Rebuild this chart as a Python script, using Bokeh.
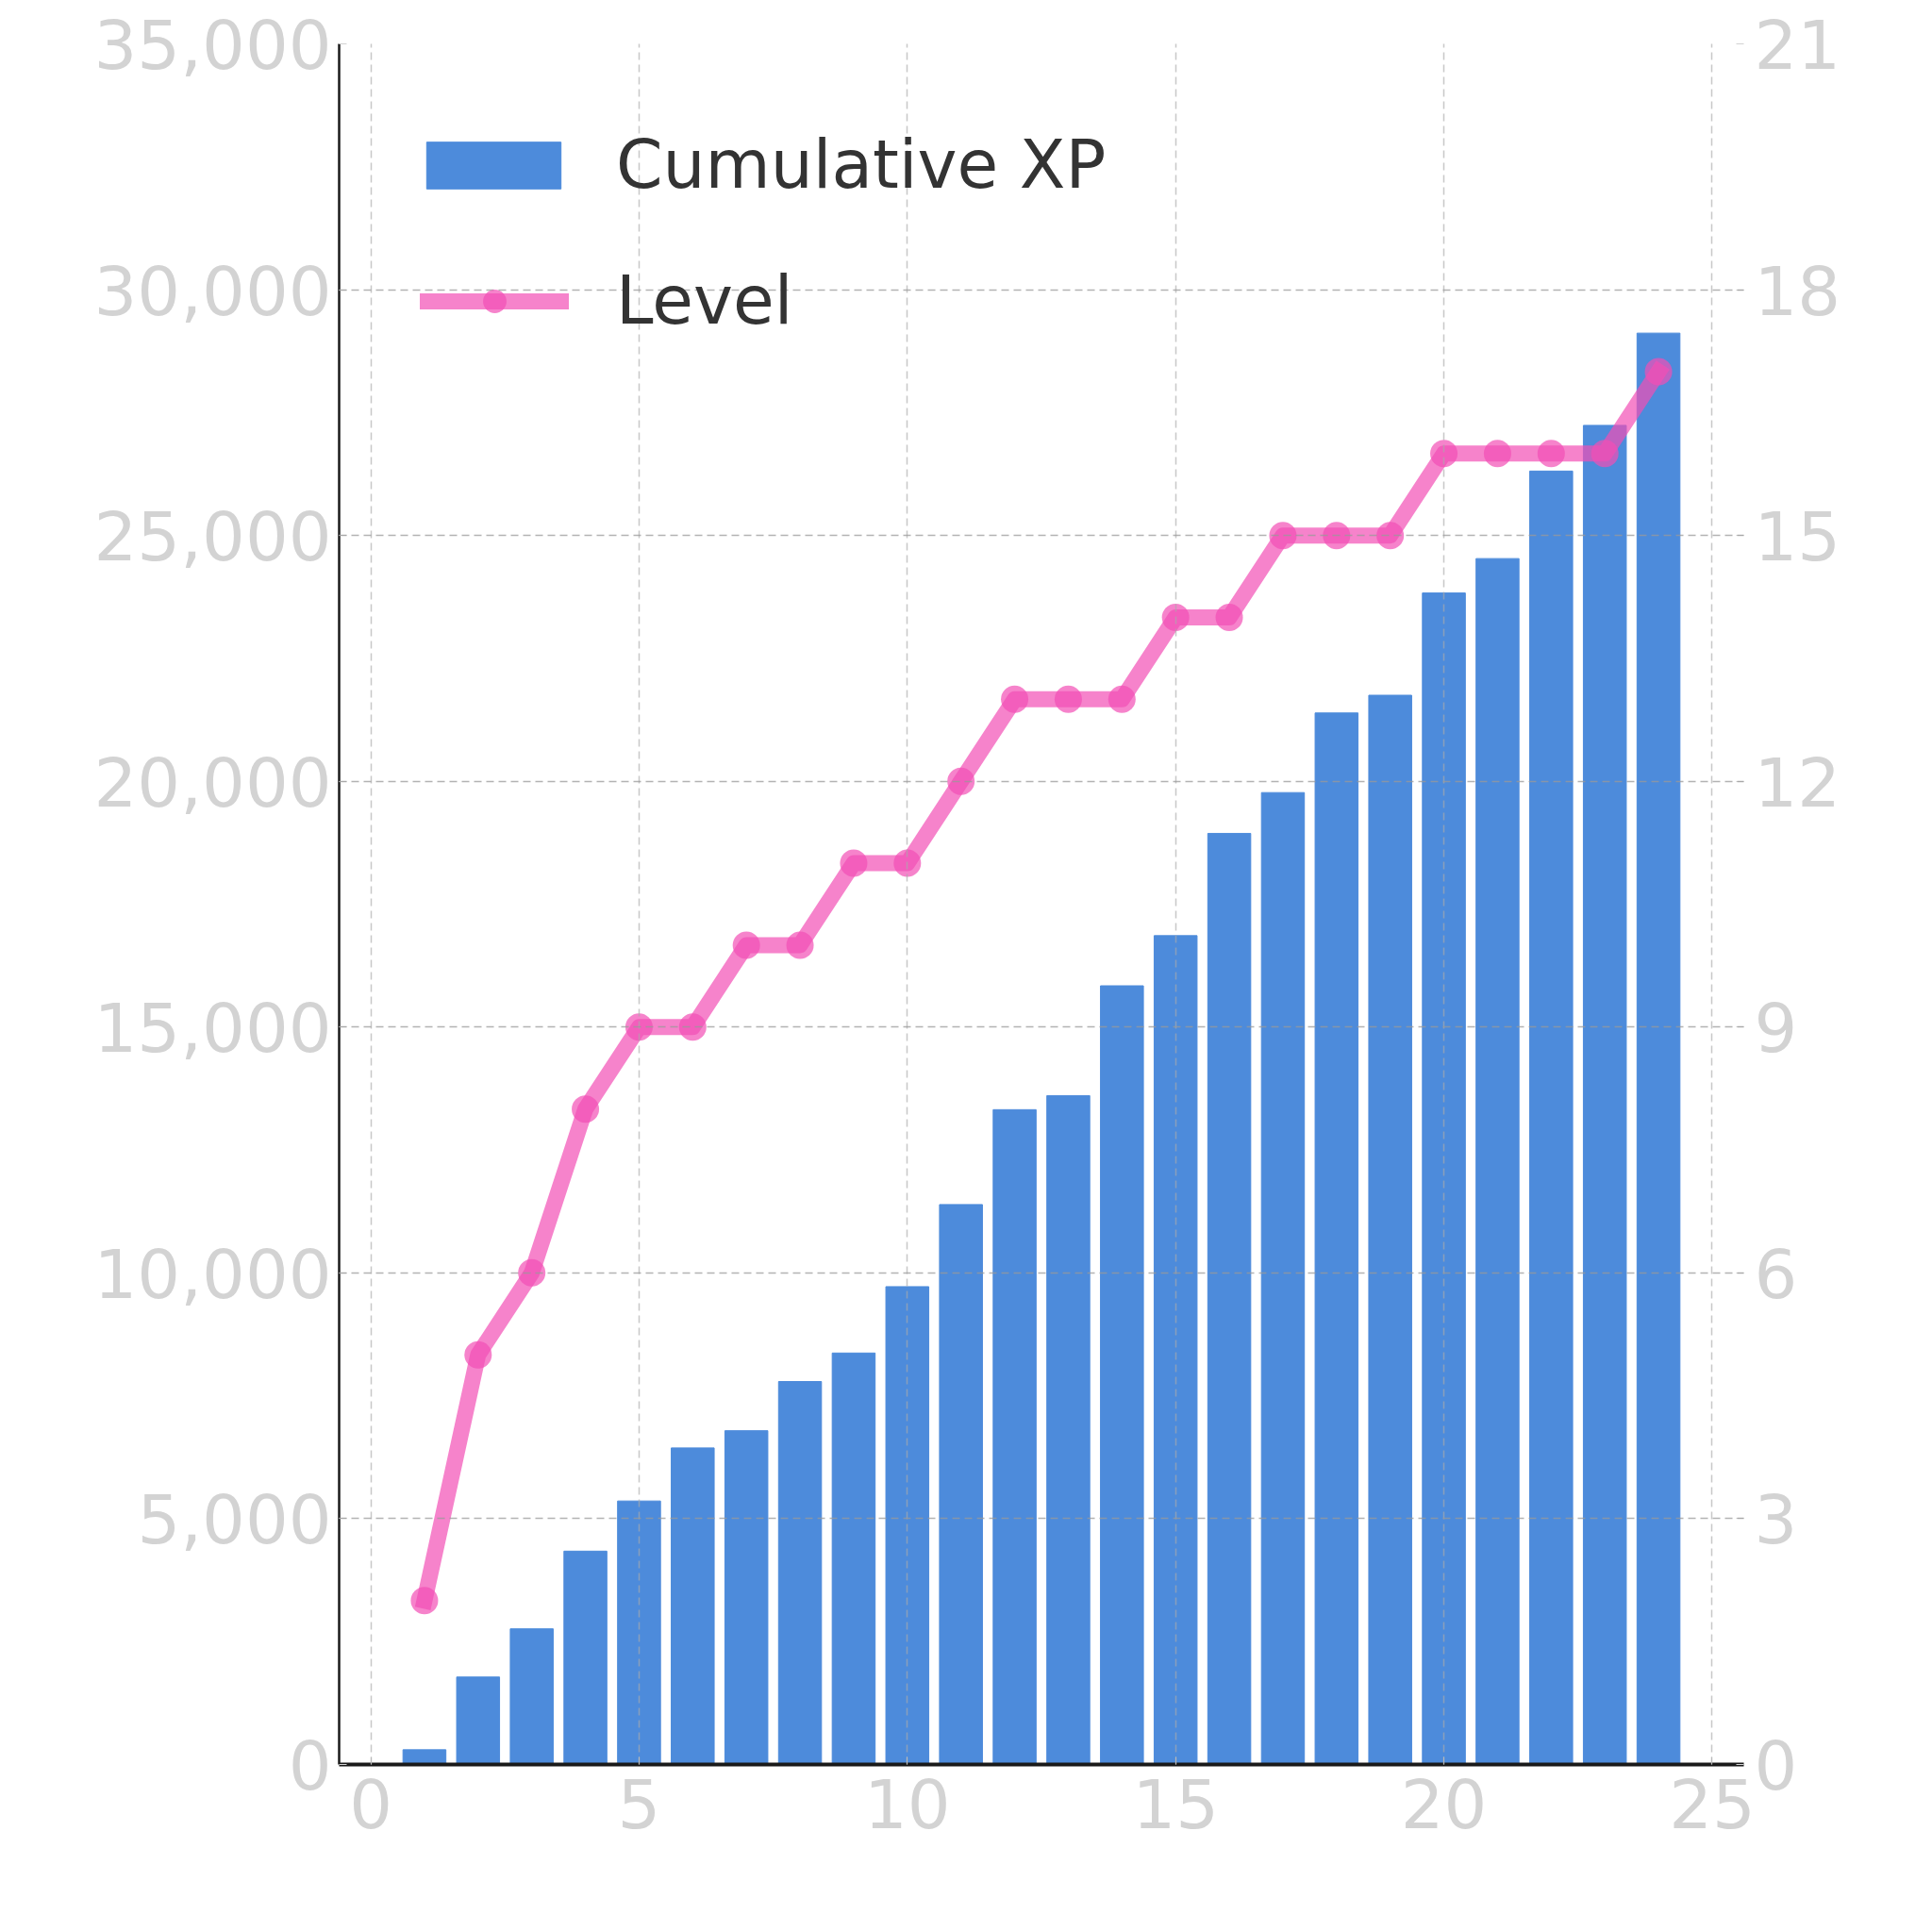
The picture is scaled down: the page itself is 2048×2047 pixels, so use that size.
from bokeh.plotting import figure
from bokeh.models import (Range1d, LinearAxis, SingleIntervalTicker, NumeralTickFormatter,
                          Legend, LegendItem, ColumnDataSource)
from bokeh.embed import file_html
from bokeh.resources import INLINE

sessions = list(range(1, 25))
cumulative_xp = [300, 1780, 2760, 4340, 5360, 6440, 6790, 7790, 8370, 9720, 11390, 13320,
                 13606, 15840, 16860, 18940, 19770, 21390, 21750, 23830, 24530, 26310, 27240, 29116]
level = [2, 5, 6, 8, 9, 9, 10, 10, 11, 11, 12, 13, 13, 13, 14, 14, 15, 15, 15, 16, 16, 16, 16, 17]

BAR = "#4d8bdb"
PINK = "#f24eb5"
TICK_GREY = "#d3d3d3"
FONT = "DejaVu Sans"

src = ColumnDataSource(dict(x=sessions, xp=cumulative_xp, lvl=level))

p = figure(width=2030, height=2028, output_backend="svg", toolbar_location=None,
           x_range=Range1d(-0.59, 25.59), y_range=Range1d(0, 35000),
           min_border_left=359, min_border_right=182, min_border_top=46, min_border_bottom=158,
           background_fill_color="white", border_fill_color="white")
p.outline_line_color = None
p.extra_y_ranges = {"lvl": Range1d(0, 21)}

bars = p.vbar(x="x", top="xp", width=0.8, source=src, fill_color=BAR, line_color=BAR, line_width=1)
line = p.line(x="x", y="lvl", source=src, y_range_name="lvl", line_color=PINK, line_alpha=0.7,
              line_width=17, line_join="round", line_cap="square")
pts = p.scatter(x="x", y="lvl", source=src, y_range_name="lvl", size=29, marker="circle",
                fill_color=PINK, fill_alpha=0.7, line_color=None)

# axes
xa = p.xaxis[0]
xa.ticker = SingleIntervalTicker(interval=5)
ya = p.yaxis[0]
ya.ticker = SingleIntervalTicker(interval=5000)
ya.formatter = NumeralTickFormatter(format="0,0")

ra = LinearAxis(y_range_name="lvl", ticker=SingleIntervalTicker(interval=3))
p.add_layout(ra, "right")

for ax in (xa, ya, ra):
    ax.major_label_text_font = FONT
    ax.major_label_text_font_size = "72px"
    ax.major_label_text_color = TICK_GREY
    ax.major_tick_out = 0
    ax.major_tick_in = 8
    ax.major_tick_line_color = TICK_GREY
    ax.minor_tick_line_color = None

xa.axis_line_color = "#1a1a1a"
xa.axis_line_width = 4
xa.major_label_standoff = 10
ya.axis_line_color = "#1a1a1a"
ya.axis_line_width = 2.5
ya.major_label_standoff = 4
ra.axis_line_color = None
ra.major_label_standoff = 7

# grid
p.xgrid.ticker = xa.ticker
p.ygrid.ticker = ya.ticker
p.xgrid.grid_line_color = "#aaaaaa"
p.xgrid.grid_line_alpha = 0.65
p.xgrid.grid_line_dash = "8 5"
p.xgrid.grid_line_width = 1.5
p.ygrid.grid_line_color = "#999999"
p.ygrid.grid_line_alpha = 0.75
p.ygrid.grid_line_dash = "8 5"
p.ygrid.grid_line_width = 1.5
p.xgrid.level = "guide"
p.ygrid.level = "guide"

common = dict(orientation="vertical", glyph_height=62, label_height=80, spacing=0,
              padding=0, margin=0, border_line_color=None, background_fill_alpha=0,
              label_text_font=FONT, label_text_font_size="71px", label_text_color="#333333")

legend_xp = Legend(items=[LegendItem(label="Cumulative XP", renderers=[bars])],
                   location=(75, 1654), glyph_width=178, label_standoff=41, **common)
legend_lvl = Legend(items=[LegendItem(label="Level", renderers=[line, pts])],
                    location=(86, 1510), glyph_width=158, label_standoff=50, **common)
p.add_layout(legend_xp, "center")
p.add_layout(legend_lvl, "center")

open("out.html", "w").write(file_html(p, INLINE))
